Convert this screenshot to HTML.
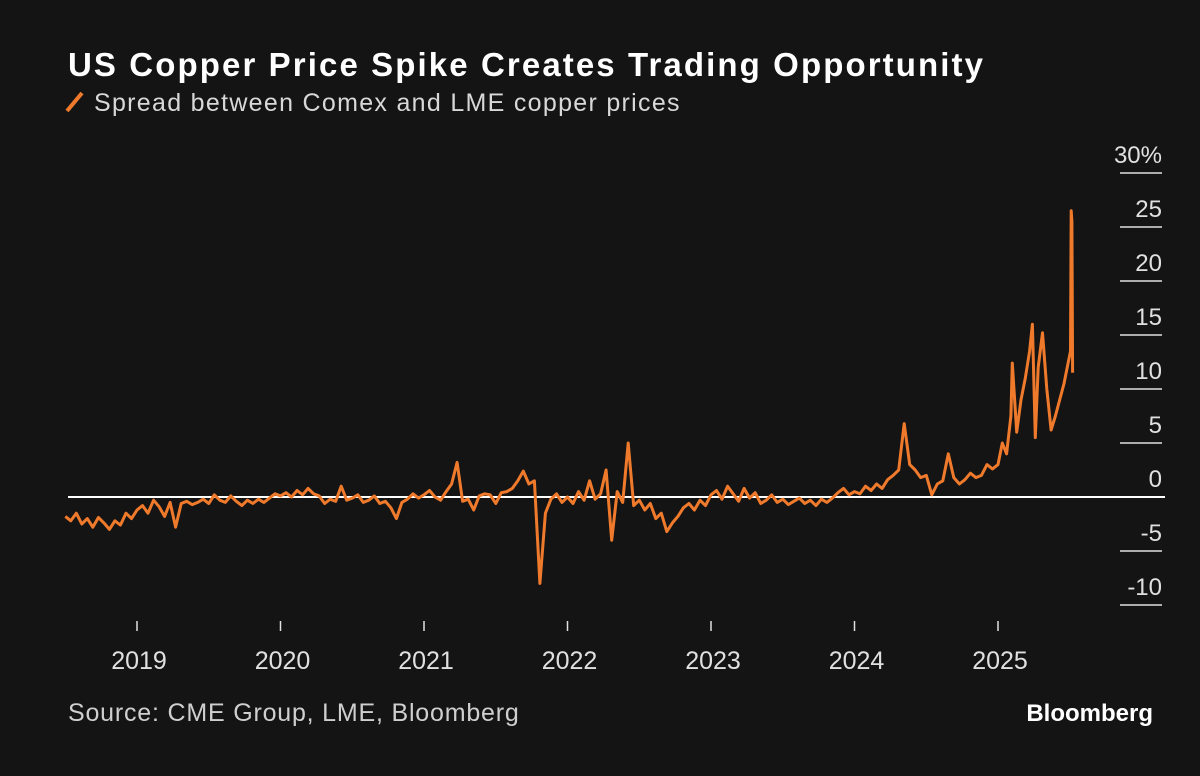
<!DOCTYPE html>
<html><head><meta charset="utf-8"><style>
html,body{margin:0;padding:0;background:#141414;}
body{width:1200px;height:771px;overflow:hidden;font-family:"Liberation Sans",sans-serif;}
</style></head><body>
<svg width="1200" height="771" xmlns="http://www.w3.org/2000/svg">
<rect width="1200" height="771" fill="#141414"/>
<text x="68" y="76" fill="#ffffff" font-size="33" font-weight="bold" letter-spacing="2.1" font-family="Liberation Sans, sans-serif">US Copper Price Spike Creates Trading Opportunity</text>
<line x1="67" y1="111" x2="82" y2="93" stroke="#f07a2c" stroke-width="4"/>
<text x="94" y="111" fill="#d8d8d8" font-size="25" letter-spacing="1.3" font-family="Liberation Sans, sans-serif">Spread between Comex and LME copper prices</text>
<g id="yaxis"></g>
<g id="xaxis"></g>
<line id="zero" stroke="#ffffff" stroke-width="2"/>
<path id="series" fill="none" stroke="#f07a2c" stroke-width="3" stroke-linejoin="round"/>
<text x="68" y="721" fill="#cfcfcf" font-size="25" letter-spacing="0.8" font-family="Liberation Sans, sans-serif">Source: CME Group, LME, Bloomberg</text>
<text x="1153" y="721" text-anchor="end" fill="#ffffff" font-size="24" font-weight="bold" font-family="Liberation Sans, sans-serif">Bloomberg</text>
</svg>
<script>
const yTicks=[30,25,20,15,10,5,0,-5,-10];
const yTickLabels=["30%","25","20","15","10","5","0","-5","-10"];
const xTicks=[2019,2020,2021,2022,2023,2024,2025];
const xTickLabels=["2019","2020","2021","2022","2023","2024","2025"];
const startYear=2018.5;
const stepYears=1/26;
const values=[
-1.8,-2.2,-1.5,-2.5,-2.0,-2.8,-1.9,-2.4,-3.0,-2.2,-2.6,-1.5,-2.0,
-1.2,-0.8,-1.5,-0.3,-0.9,-1.8,-0.5,-2.8,-0.6,-0.4,-0.7,-0.5,-0.2,-0.6,0.2,-0.3,-0.5,0.1,-0.4,-0.8,-0.3,-0.6,-0.2,-0.5,-0.1,0.3,
0.1,0.4,0.0,0.6,0.2,0.8,0.3,0.1,-0.6,-0.2,-0.4,1.0,-0.3,-0.1,0.2,-0.5,-0.3,0.1,-0.6,-0.4,-1.0,-2.0,-0.5,-0.2,0.3,-0.1,
0.2,0.6,0.0,-0.3,0.5,1.2,3.2,-0.4,-0.2,-1.2,0.1,0.3,0.2,-0.6,0.4,0.5,0.8,1.5,2.4,1.2,1.5,-8.0,-1.5,-0.2,0.3,-0.5,
0.0,-0.6,0.5,-0.3,1.5,-0.2,0.3,2.5,-4.0,0.5,-0.5,5.0,-0.8,-0.3,-1.2,-0.6,-2.0,-1.5,-3.2,-2.4,-1.8,-1.0,-0.6,-1.2,-0.3,-0.8,
0.2,0.6,-0.2,1.0,0.3,-0.4,0.8,-0.1,0.4,-0.6,-0.3,0.2,-0.5,-0.2,-0.7,-0.4,-0.1,-0.6,-0.3,-0.8,-0.2,-0.5,-0.1,0.4,0.8,0.2,
0.5,0.3,1.0,0.6,1.2,0.8,1.6,2.0,2.5,6.8,3.0,2.5,1.8,2.0,0.2,1.2,1.5,4.0,1.8,1.2,1.6,2.2,1.8,2.0,3.0,2.6
];
const recentDates=[2025.00,2025.03,2025.06,2025.09,2025.10,2025.13,2025.16,2025.19,2025.22,2025.24,2025.26,2025.28,2025.31,2025.34,2025.37,2025.40,2025.43,2025.46,2025.49,2025.505,2025.51,2025.515,2025.52];
const recentValues=[3.0,5.0,4.0,7.5,12.4,6.0,9.0,11.0,13.5,16.0,5.5,12.0,15.2,10.0,6.2,7.5,9.0,10.5,12.5,13.5,26.5,25.5,11.5];

const NS="http://www.w3.org/2000/svg";
function xScale(t){return 137+(t-2019)*143.5;}
function yScale(v){return 497-v*10.8;}
function mk(tag,attrs,parent){const e=document.createElementNS(NS,tag);for(const k in attrs)e.setAttribute(k,attrs[k]);parent.appendChild(e);return e;}

const ya=document.getElementById('yaxis');
yTicks.forEach((v,i)=>{
  const y=yScale(v);
  if(v!==0){
    const l=mk('line',{x1:1120,x2:1162,y1:y,y2:y,stroke:'#e0e0e0','stroke-width':1.5},ya);
    
    
  }
  const t=mk('text',{x:1162,y:y-10,'text-anchor':'end',fill:'#e0e0e0','font-size':24,'font-family':'Liberation Sans, sans-serif'},ya);
  t.textContent=yTickLabels[i];
  
  
});
const xa=document.getElementById('xaxis');
xTicks.forEach((yr,i)=>{
  const x=xScale(yr);
  const l=mk('line',{x1:x,x2:x,y1:621,y2:631,stroke:'#e0e0e0','stroke-width':1.5},xa);
  
  
  const t=mk('text',{x:x+2,y:669,'text-anchor':'middle',fill:'#e0e0e0','font-size':25,'font-family':'Liberation Sans, sans-serif'},xa);
  t.textContent=xTickLabels[i];
  
  
});
const z=document.getElementById('zero');
z.setAttribute('x1',68);z.setAttribute('x2',1165);
z.setAttribute('y1',yScale(0));z.setAttribute('y2',yScale(0));

let pts=[];
values.forEach((v,i)=>pts.push([xScale(startYear+i*stepYears),yScale(v)]));
recentDates.forEach((d,i)=>pts.push([xScale(d),yScale(recentValues[i])]));
document.getElementById('series').setAttribute('d',pts.map((p,i)=>(i?'L':'M')+p[0].toFixed(1)+','+p[1].toFixed(1)).join(''));
</script>
</body></html>
